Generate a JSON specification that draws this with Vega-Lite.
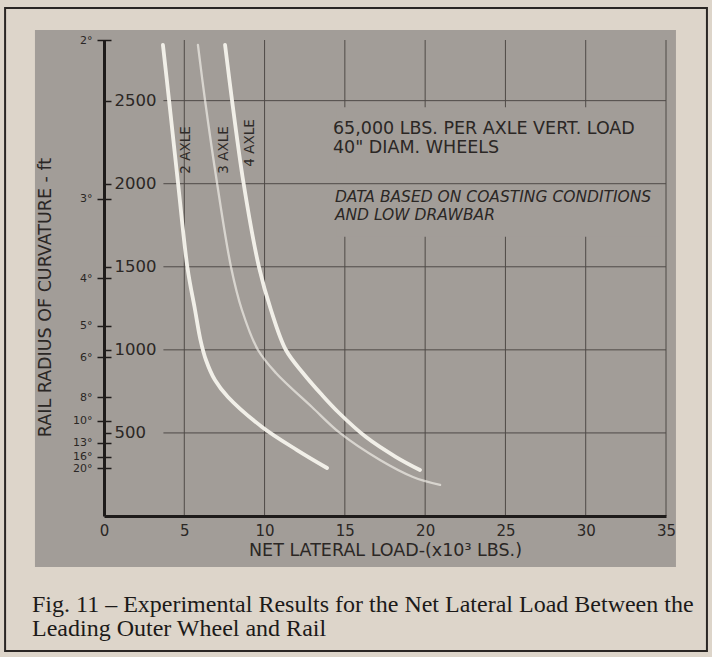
{
  "$schema": "https://vega.github.io/schema/vega-lite/v6.json",
  "width": 562,
  "height": 476,
  "autosize": {"type": "none"},
  "padding": {"left": 104, "top": 40, "right": 46, "bottom": 141},
  "background": "#ddd5ca",
  "config": {"view": {"stroke": null}, "font": "DejaVu Sans"},
  "title": {
    "text": ["Fig. 11  – Experimental Results for the Net Lateral Load Between the", "Leading Outer Wheel and Rail"],
    "orient": "bottom",
    "anchor": "start",
    "frame": "group",
    "font": "Liberation Serif",
    "fontSize": 24,
    "fontWeight": "normal",
    "color": "#1c1a19",
    "offset": -59,
    "dx": -72,
    "lineHeight": 24
  },
  "datasets": {
    "curves": [
      {"series": "2 AXLE", "load": 3.67, "radius": 2835},
      {"series": "2 AXLE", "load": 4.05, "radius": 2504},
      {"series": "2 AXLE", "load": 4.61, "radius": 2004},
      {"series": "2 AXLE", "load": 5.2, "radius": 1493},
      {"series": "2 AXLE", "load": 5.67, "radius": 1240},
      {"series": "2 AXLE", "load": 6.01, "radius": 1059},
      {"series": "2 AXLE", "load": 6.35, "radius": 939},
      {"series": "2 AXLE", "load": 6.91, "radius": 818},
      {"series": "2 AXLE", "load": 7.72, "radius": 716},
      {"series": "2 AXLE", "load": 9.84, "radius": 536},
      {"series": "2 AXLE", "load": 12.02, "radius": 397},
      {"series": "2 AXLE", "load": 13.89, "radius": 289},
      {"series": "3 AXLE", "load": 5.85, "radius": 2835},
      {"series": "3 AXLE", "load": 6.29, "radius": 2504},
      {"series": "3 AXLE", "load": 7.04, "radius": 2004},
      {"series": "3 AXLE", "load": 7.91, "radius": 1499},
      {"series": "3 AXLE", "load": 8.59, "radius": 1240},
      {"series": "3 AXLE", "load": 9.59, "radius": 999},
      {"series": "3 AXLE", "load": 10.71, "radius": 861},
      {"series": "3 AXLE", "load": 12.95, "radius": 656},
      {"series": "3 AXLE", "load": 14.69, "radius": 500},
      {"series": "3 AXLE", "load": 17.19, "radius": 337},
      {"series": "3 AXLE", "load": 19.24, "radius": 235},
      {"series": "3 AXLE", "load": 20.93, "radius": 187},
      {"series": "4 AXLE", "load": 7.54, "radius": 2835},
      {"series": "4 AXLE", "load": 7.97, "radius": 2504},
      {"series": "4 AXLE", "load": 8.69, "radius": 2004},
      {"series": "4 AXLE", "load": 9.65, "radius": 1499},
      {"series": "4 AXLE", "load": 10.4, "radius": 1240},
      {"series": "4 AXLE", "load": 11.33, "radius": 999},
      {"series": "4 AXLE", "load": 12.39, "radius": 861},
      {"series": "4 AXLE", "load": 13.58, "radius": 728},
      {"series": "4 AXLE", "load": 14.64, "radius": 620},
      {"series": "4 AXLE", "load": 16.32, "radius": 475},
      {"series": "4 AXLE", "load": 18.19, "radius": 355},
      {"series": "4 AXLE", "load": 19.68, "radius": 277}
    ],
    "vgrid": [{"load": 5}, {"load": 10}, {"load": 15}, {"load": 20}, {"load": 25}, {"load": 30}, {"load": 35}],
    "hgrid": [{"radius": 500}, {"radius": 1000}, {"radius": 1500}, {"radius": 2000}, {"radius": 2500}],
    "axleLabels": [
      {"label": "2 AXLE", "load": 5.1, "radius": 2203},
      {"label": "3 AXLE", "load": 7.5, "radius": 2203},
      {"label": "4 AXLE", "load": 9.07, "radius": 2245}
    ],
    "notes": [
      {"text": "65,000 LBS. PER AXLE VERT. LOAD", "load": 14.26, "radius": 2299},
      {"text": "40\" DIAM. WHEELS", "load": 14.26, "radius": 2185}
    ],
    "notesItalic": [
      {"text": "DATA BASED ON COASTING CONDITIONS", "load": 14.38, "radius": 1890},
      {"text": "AND LOW DRAWBAR", "load": 14.38, "radius": 1782}
    ]
  },
  "resolve": {"axis": {"x": "independent", "y": "independent"}},
  "layer": [
    {
      "data": {"values": [{}]},
      "mark": {"type": "rect", "fillOpacity": 0, "stroke": "#2a2624", "strokeWidth": 2},
      "encoding": {
        "x": {"datum": -6.16, "type": "quantitative", "scale": {"domain": [0, 35], "nice": false, "zero": false}, "axis": null},
        "x2": {"datum": 37.55},
        "y": {"datum": -812, "type": "quantitative", "scale": {"domain": [0, 2865], "nice": false, "zero": false}, "axis": null},
        "y2": {"datum": 3058}
      }
    },
    {
      "data": {"values": [{}]},
      "mark": {"type": "rect", "fill": "#a29d98"},
      "encoding": {
        "x": {"datum": -4.3, "type": "quantitative", "scale": {"domain": [0, 35], "nice": false, "zero": false}, "axis": null},
        "x2": {"datum": 35.62},
        "y": {
          "datum": -307, "type": "quantitative", "scale": {"domain": [0, 2865], "nice": false, "zero": false},
          "axis": {
            "orient": "left",
            "values": [2864.8, 1909.9, 1432.4, 1145.9, 954.9, 716.2, 573, 440.7, 358.1, 286.5],
            "labelExpr": "round(5729.6/datum.value) + '°'",
            "offset": -7,
            "tickSize": 14,
            "tickWidth": 1.5,
            "tickColor": "#1e1b1a",
            "labelPadding": 5,
            "labelFontSize": 11,
            "labelColor": "#2b2725",
            "labelAlign": "right",
            "labelBaseline": "middle",
            "labelOverlap": false,
            "labelFlush": false,
            "domain": false,
            "grid": false,
            "title": null,
            "zindex": 1
          }
        },
        "y2": {"datum": 2925}
      }
    },
    {
      "data": {"name": "vgrid"},
      "mark": {"type": "rule", "color": "#4f4a47", "strokeWidth": 1},
      "encoding": {
        "x": {"field": "load", "type": "quantitative", "scale": {"domain": [0, 35], "nice": false, "zero": false}, "axis": null}
      }
    },
    {
      "data": {"values": [{}]},
      "mark": {"type": "rect", "fill": "#a29d98"},
      "encoding": {
        "x": {"datum": 14.5, "type": "quantitative", "scale": {"domain": [0, 35], "nice": false, "zero": false}, "axis": null},
        "x2": {"datum": 34.7},
        "y": {"datum": 1681, "type": "quantitative", "scale": {"domain": [0, 2865], "nice": false, "zero": false}, "axis": null},
        "y2": {"datum": 2460}
      }
    },
    {
      "data": {"name": "hgrid"},
      "mark": {"type": "rule", "color": "#4f4a47", "strokeWidth": 1},
      "encoding": {
        "y": {"field": "radius", "type": "quantitative", "scale": {"domain": [0, 2865], "nice": false, "zero": false}, "axis": null},
        "x": {"datum": 3.7, "type": "quantitative", "scale": {"domain": [0, 35], "nice": false, "zero": false}, "axis": null},
        "x2": {"datum": 35}
      }
    },
    {
      "data": {"name": "curves"},
      "mark": {"type": "line", "interpolate": "catmull-rom", "color": "#f6f3ec", "strokeCap": "round"},
      "encoding": {
        "x": {
          "field": "load", "type": "quantitative", "scale": {"domain": [0, 35], "nice": false, "zero": false},
          "axis": {
            "values": [0, 5, 10, 15, 20, 25, 30, 35],
            "ticks": false,
            "labelPadding": 7,
            "labelFontSize": 15,
            "labelColor": "#2b2725",
            "labelFlush": false,
            "labelOverlap": false,
            "domainColor": "#1e1b1a",
            "domainWidth": 3,
            "grid": false,
            "title": "NET LATERAL LOAD-(x10³ LBS.)",
            "titleFontSize": 17.5,
            "titleFontWeight": "normal",
            "titleColor": "#2b2725",
            "titlePadding": 3,
            "zindex": 1
          }
        },
        "y": {
          "field": "radius", "type": "quantitative", "scale": {"domain": [0, 2865], "nice": false, "zero": false},
          "axis": {
            "orient": "left",
            "values": [500, 1000, 1500, 2000, 2500],
            "format": "d",
            "tickSize": -7,
            "tickWidth": 1.5,
            "tickColor": "#1e1b1a",
            "labelAlign": "left",
            "labelPadding": -3,
            "labelBaseline": "middle",
            "labelFontSize": 16.5,
            "labelColor": "#2b2725",
            "labelOverlap": false,
            "labelFlush": false,
            "domain": true,
            "domainColor": "#1e1b1a",
            "domainWidth": 3,
            "grid": false,
            "title": "RAIL RADIUS OF CURVATURE - ft",
            "titleX": -59,
            "titleY": 257,
            "titleAngle": 270,
            "titleAlign": "center",
            "titleBaseline": "middle",
            "titleFontSize": 17.5,
            "titleFontWeight": "normal",
            "titleColor": "#2b2725",
            "zindex": 1
          }
        },
        "detail": {"field": "series", "type": "nominal"},
        "strokeWidth": {"condition": {"test": "datum.series === '3 AXLE'", "value": 2.3}, "value": 3.8},
        "opacity": {"condition": {"test": "datum.series === '3 AXLE'", "value": 0.65}, "value": 0.95}
      }
    },
    {
      "data": {"name": "axleLabels"},
      "mark": {"type": "text", "angle": 270, "fontSize": 13.5, "color": "#2f2b29", "align": "center", "baseline": "middle"},
      "encoding": {
        "x": {"field": "load", "type": "quantitative", "scale": {"domain": [0, 35], "nice": false, "zero": false}, "axis": null},
        "y": {"field": "radius", "type": "quantitative", "scale": {"domain": [0, 2865], "nice": false, "zero": false}, "axis": null},
        "text": {"field": "label"}
      }
    },
    {
      "data": {"name": "notes"},
      "mark": {"type": "text", "fontSize": 17.5, "color": "#2b2725", "align": "left", "baseline": "alphabetic"},
      "encoding": {
        "x": {"field": "load", "type": "quantitative", "scale": {"domain": [0, 35], "nice": false, "zero": false}, "axis": null},
        "y": {"field": "radius", "type": "quantitative", "scale": {"domain": [0, 2865], "nice": false, "zero": false}, "axis": null},
        "text": {"field": "text"}
      }
    },
    {
      "data": {"name": "notesItalic"},
      "mark": {"type": "text", "fontSize": 15.5, "fontStyle": "italic", "color": "#2b2725", "align": "left", "baseline": "alphabetic"},
      "encoding": {
        "x": {"field": "load", "type": "quantitative", "scale": {"domain": [0, 35], "nice": false, "zero": false}, "axis": null},
        "y": {"field": "radius", "type": "quantitative", "scale": {"domain": [0, 2865], "nice": false, "zero": false}, "axis": null},
        "text": {"field": "text"}
      }
    }
  ]
}
